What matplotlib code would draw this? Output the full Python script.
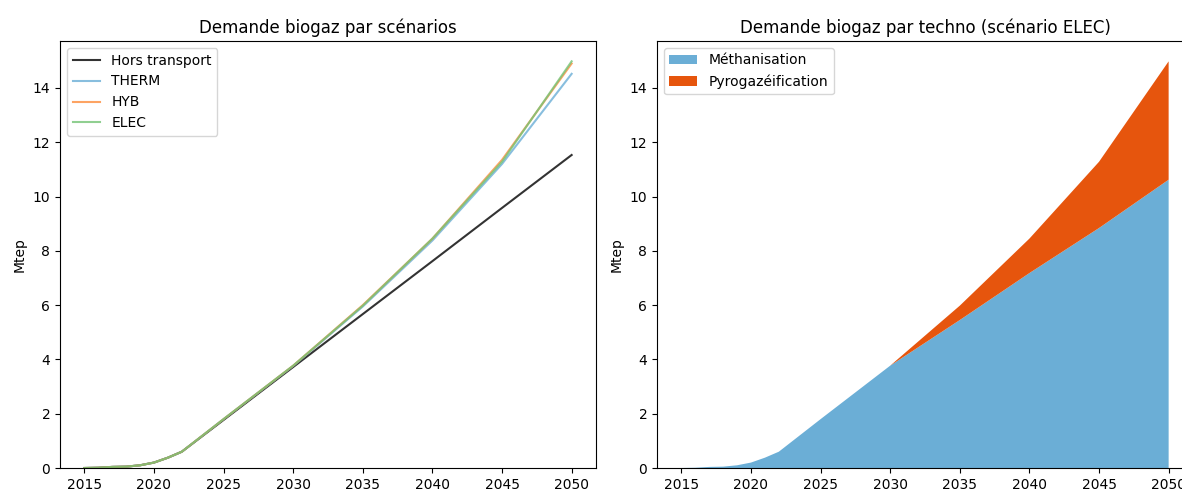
import numpy as np
from matplotlib import pyplot as plt

# Years and demand per scenario (Mtep)
years = [2015, 2016, 2017, 2018, 2019, 2020, 2021, 2022,
         2025, 2030, 2035, 2040, 2045, 2050]
horsTransport = [0, 0.01, 0.04, 0.05, 0.1, 0.2, 0.38, 0.6,
                 1.77, 3.72, 5.67, 7.62, 9.58, 11.53]
therm = [0, 0.01, 0.04, 0.05, 0.1, 0.2, 0.38, 0.6,
         1.8, 3.76, 5.95, 8.38, 11.2, 14.52]
hyb = [0, 0.01, 0.04, 0.05, 0.1, 0.2, 0.38, 0.6,
       1.8, 3.77, 6.0, 8.45, 11.35, 14.9]
elec = [0, 0.01, 0.04, 0.05, 0.1, 0.2, 0.38, 0.6,
        1.8, 3.77, 5.98, 8.45, 11.28, 14.98]

# Split of the ELEC scenario by techno
methanisation = [0, 0.01, 0.04, 0.05, 0.1, 0.2, 0.38, 0.6,
                 1.8, 3.77, 5.45, 7.18, 8.84, 10.62]
pyrogazeification = [0, 0, 0, 0, 0, 0, 0, 0,
                     0, 0, 0.53, 1.27, 2.44, 4.36]

scenarioNames = ["THERM", "HYB", "ELEC"]
scenarioValues = [therm, hyb, elec]
technoNames = ["Méthanisation", "Pyrogazéification"]

cmap = plt.get_cmap("tab20c")
scenarioColors = [cmap(1), cmap(5), cmap(9)]

fig = plt.figure(figsize=(11.82, 4.9), dpi=100)
axLeft = fig.add_axes([60 / 1182, 22 / 490, 536 / 1182, 427 / 490])
axRight = fig.add_axes([657 / 1182, 22 / 490, 536 / 1182, 427 / 490])

# Left: demand per scenario
axLeft.plot(years, horsTransport, color="k", alpha=0.8,
            label="Hors transport")
for name, values, color in zip(scenarioNames, scenarioValues,
                               scenarioColors):
    axLeft.plot(years, values, color=color, alpha=0.8, label=name)
axLeft.set_ylim(bottom=0)
axLeft.set_xticks(np.arange(2015, 2051, 5))
axLeft.set_ylabel("Mtep")
axLeft.set_title("Demande biogaz par scénarios", fontsize=12)
axLeft.legend(loc="upper left")

# Right: ELEC scenario split by techno
axRight.stackplot(years, methanisation, pyrogazeification,
                  colors=[cmap(1), cmap(4)], labels=technoNames)
axRight.set_xticks(np.arange(2015, 2051, 5))
axRight.set_ylabel("Mtep")
axRight.set_title("Demande biogaz par techno (scénario ELEC)", fontsize=12)
axRight.legend(loc="upper left")

fig.savefig("out.png", dpi=100)
